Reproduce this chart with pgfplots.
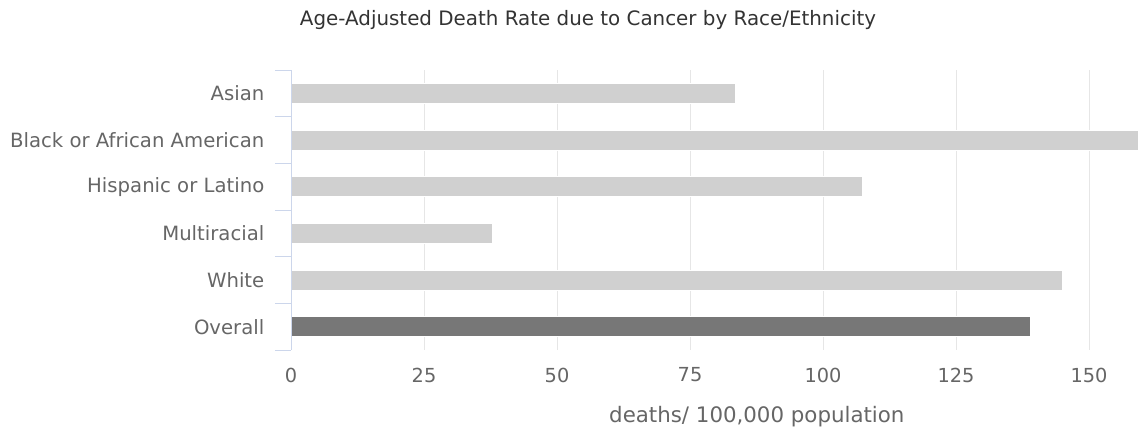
\documentclass[border=0pt]{standalone}
\usepackage{pgfplots}
\pgfplotsset{compat=1.18}
\usepackage{fontspec}
\setmainfont{DejaVu Sans}
\definecolor{lbar}{HTML}{D0D0D0}
\definecolor{dbar}{HTML}{777777}
\definecolor{axblue}{HTML}{CCD6EB}
\definecolor{gridc}{HTML}{E6E6E6}
\definecolor{lab}{HTML}{666666}
\definecolor{ttl}{HTML}{333333}
\begin{document}
\begin{tikzpicture}[x=0.75pt,y=0.75pt]
\useasboundingbox (0,0) rectangle (1138,430);
\begin{axis}[
  at={(291*0.75pt,80*0.75pt)}, anchor=south west,
  scale only axis, width=847*0.75pt, height=280*0.75pt,
  xmin=0, xmax=159.2, ymin=-0.5, ymax=5.5, y dir=reverse,
  xbar, bar width=20*0.75pt, bar shift=0pt,
  xtick={0,25,50,75,100,125,150},
  ytick={0,1,2,3,4,5},
  yticklabels={Asian,Black or African American,Hispanic or Latino,Multiracial,White,Overall},
  extra y ticks={-0.5,0.5,1.5,2.5,3.5,4.5,5.5},
  extra y tick labels={},
  extra y tick style={major tick length=16*0.75pt, tick align=outside, tick style={draw=axblue, line width=0.75pt}, grid=none},
  major tick length=0pt,
  xmajorgrids, grid style={draw=gridc, line width=0.75pt},
  axis x line*=bottom, axis y line*=left,
  x axis line style={draw=none},
  y axis line style={draw=axblue, line width=0.75pt},
  yticklabel style={font=\fontsize{14.75}{17}\selectfont, text=lab, xshift=-22*0.75pt},
  xticklabel style={font=\fontsize{14.5}{17}\selectfont, text=lab, yshift=-13*0.75pt},
  /pgf/number format/assume math mode=true,
  xlabel={deaths/ 100,000 population},
  xlabel style={font=\fontsize{16}{19}\selectfont, text=lab, at={(axis description cs:0.55,0)}, anchor=north, yshift=-52*0.75pt},
  clip=true,
]
\addplot[fill=lbar, draw=white, line width=0.75pt] coordinates {(83.5,0) (159.2,1) (107.5,2) (37.8,3) (145.1,4)};
\addplot[fill=dbar, draw=white, line width=0.75pt] coordinates {(138.9,5)};
\draw[axblue, line width=0.75pt] (axis cs:0,-0.5) -- (axis cs:0,5.5);
\end{axis}
\node[font=\fontsize{14.9}{18}\selectfont, text=ttl] at (588,410) {Age-Adjusted Death Rate due to Cancer by Race/Ethnicity};
\end{tikzpicture}
\end{document}
